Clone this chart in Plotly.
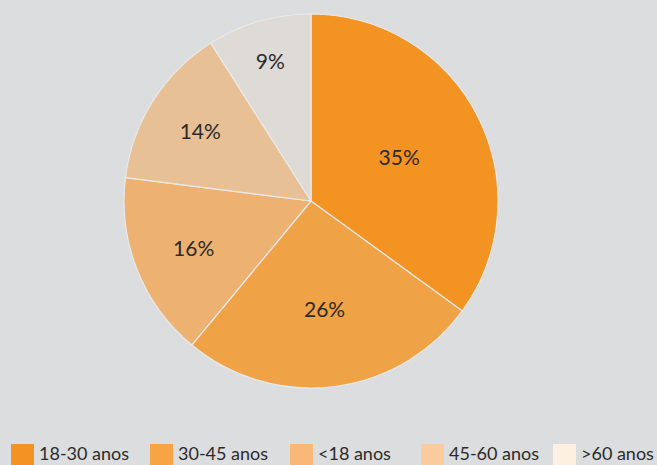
import plotly.graph_objects as go

# Age groups and their share of respondents
labels = ["18-30 anos", "30-45 anos", "<18 anos", "45-60 anos", ">60 anos"]
shares = [35, 26, 16, 14, 9]
slice_colors = ["#F39322", "#F0A246", "#EDB271", "#E8C095", "#DEDAD5"]
legend_colors = ["#F39322", "#F7A445", "#F9B877", "#FBCC9E", "#FDF0E1"]

W, H = 657, 465
BG = "#DCDDDF"
FONT = "Lato, 'Noto Sans', sans-serif"
TEXT = "#2B2B2B"

fig = go.Figure()

fig.add_trace(go.Pie(
    labels=labels,
    values=shares,
    sort=False,
    direction="clockwise",
    rotation=0,
    marker=dict(colors=slice_colors, line=dict(color="#E9E9E9", width=1.2)),
    texttemplate="%{value}%",
    textposition="inside",
    insidetextorientation="horizontal",
    textfont=dict(family=FONT, size=21, color=TEXT),
    hoverinfo="label+percent",
    showlegend=False,
    domain=dict(x=[(311 - 187) / W, (311 + 187) / W],
                y=[(H - 388) / H, (H - 14) / H]),
))

# Legend row along the bottom edge
legend_x = [11, 150, 290, 421, 553]
shapes = []
annotations = []
for lab, col, x0 in zip(labels, legend_colors, legend_x):
    shapes.append(dict(type="rect", xref="paper", yref="paper",
                       x0=x0 / W, x1=(x0 + 23) / W,
                       y0=-0.02, y1=(H - 444) / H,
                       fillcolor=col, line=dict(width=0), layer="above"))
    annotations.append(dict(text=lab, xref="paper", yref="paper",
                            x=(x0 + 27) / W, y=0.0,
                            xanchor="left", yanchor="bottom", showarrow=False,
                            borderpad=0,
                            font=dict(family=FONT, size=18, color=TEXT)))

fig.update_layout(
    width=W, height=H,
    margin=dict(l=0, r=0, t=0, b=0),
    paper_bgcolor=BG, plot_bgcolor=BG,
    shapes=shapes, annotations=annotations,
)

fig.write_html("out.html")
